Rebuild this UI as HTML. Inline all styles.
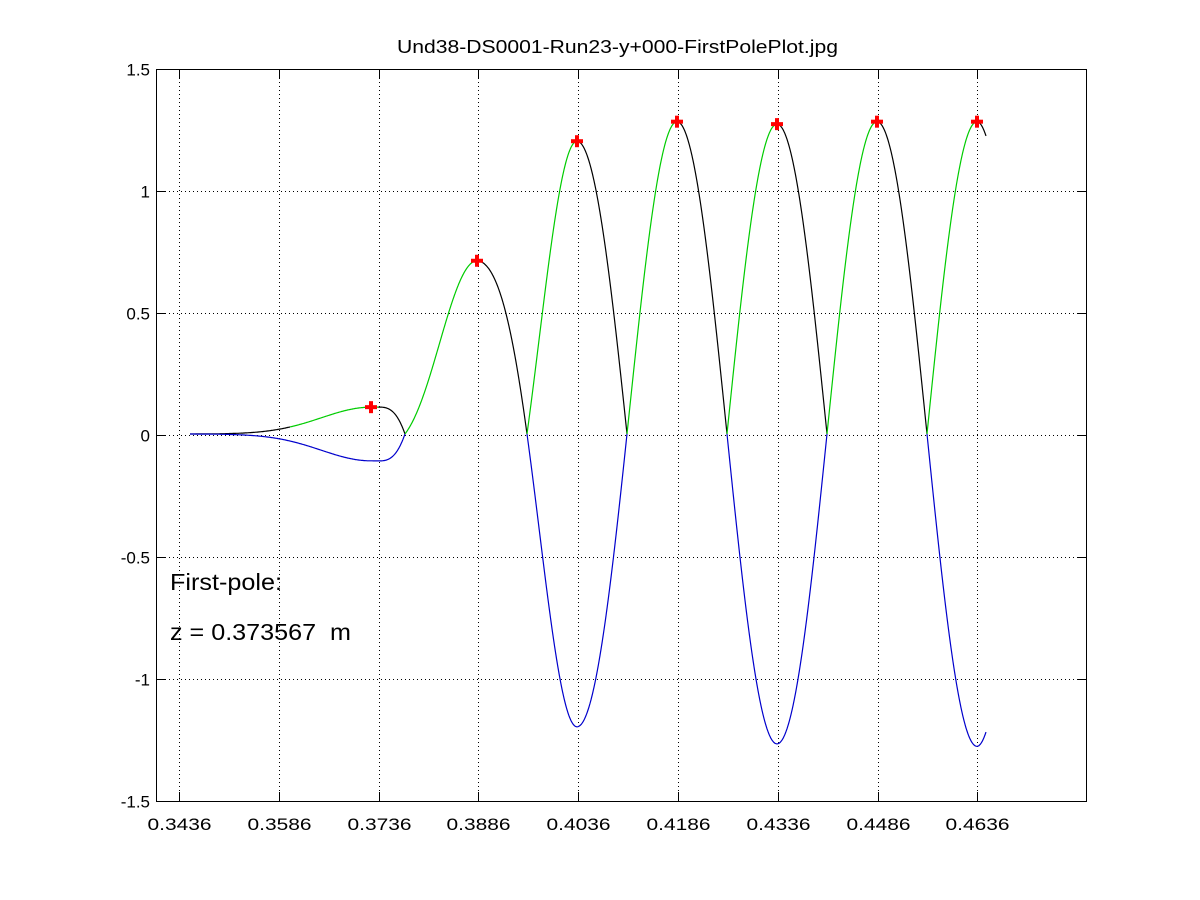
<!DOCTYPE html>
<html><head><meta charset="utf-8"><style>
html,body{margin:0;padding:0;background:#fff;}
svg{display:block;font-family:"Liberation Sans",Helvetica,sans-serif;}
</style></head><body>
<svg id="s" width="1200" height="900" viewBox="0 0 1200 900" xmlns="http://www.w3.org/2000/svg">
<rect width="1200" height="900" fill="#fff"/>
<g id="grid" stroke="#000" stroke-width="1" stroke-dasharray="1,3"></g>
<g id="curves" fill="none" stroke-width="1.2"></g>
<g id="marks" stroke="#f00" stroke-width="4"></g>
<rect x="156.5" y="69.5" width="930" height="732" fill="none" stroke="#000" stroke-width="1"/>
<g id="ticks" stroke="#000" stroke-width="1"></g>
<g id="labels" font-size="17" fill="#000"></g>
<text x="397" y="53" font-size="18" textLength="441" lengthAdjust="spacingAndGlyphs">Und38-DS0001-Run23-y+000-FirstPolePlot.jpg</text>
<text x="170" y="590" font-size="23" textLength="112" lengthAdjust="spacingAndGlyphs">First-pole:</text>
<text x="170" y="640" font-size="23" textLength="181" lengthAdjust="spacingAndGlyphs" xml:space="preserve">z = 0.373567  m</text>
</svg>
<script>
var NS="http://www.w3.org/2000/svg";
function el(p,t,a){var e=document.createElementNS(NS,t);for(var k in a)e.setAttribute(k,a[k]);p.appendChild(e);return e;}
var grid=document.getElementById('grid'),ticks=document.getElementById('ticks'),labels=document.getElementById('labels');
var xl=["0.3436","0.3586","0.3736","0.3886","0.4036","0.4186","0.4336","0.4486","0.4636"];
for(var i=0;i<9;i++){var x=179+99.8*i;x=Math.round(x)+0.5;
el(grid,'line',{x1:x,y1:70,x2:x,y2:801});
el(ticks,'line',{x1:x,y1:801,x2:x,y2:792});el(ticks,'line',{x1:x,y1:70,x2:x,y2:79});
var t=el(labels,'text',{x:x-32,y:830,textLength:64,lengthAdjust:'spacingAndGlyphs'});t.textContent=xl[i];}
var yl=["1.5","1","0.5","0","-0.5","-1","-1.5"];
for(var j=0;j<7;j++){var y=Math.round(69+122*j)+0.5;
if(j>0&&j<6){el(grid,'line',{x1:157,y1:y,x2:1086,y2:y});}
el(ticks,'line',{x1:157,y1:y,x2:166,y2:y});el(ticks,'line',{x1:1086,y1:y,x2:1077,y2:y});
var t=el(labels,'text',{x:150,y:y+6,'text-anchor':'end'});t.textContent=yl[j];}
var ap=[[371,0.11],[477,0.71],[577,1.2],[677,1.28],[777,1.27],[877,1.28],[977,1.28],[990,1.27]];
function A(x){if(x<371)return 0.11*Math.exp(-Math.pow((x-371)/70,2));
for(var i=0;i<ap.length-1;i++){if(x<=ap[i+1][0]){var f=(x-ap[i][0])/(ap[i+1][0]-ap[i][0]);f=(1-Math.cos(Math.PI*f))/2;return ap[i][1]+(ap[i+1][1]-ap[i][1])*f;}}return ap[ap.length-1][1];}
function ph(x){if(x<371)return -Math.PI;if(x<405)return -Math.PI+(x-371)/34*Math.PI/2;if(x<477)return -Math.PI/2+(x-405)/72*Math.PI/2;return Math.PI*(x-477)/100;}
function s(x){return A(x)*Math.cos(ph(x));}
function Y(v){return 434-v*244;}
var cv=document.getElementById('curves');
var pts=[];for(var x=190;x<=986;x+=0.5)pts.push([x,s(x)]);
function P(seg){return 'M'+seg.map(p=>p[0].toFixed(1)+','+p[1].toFixed(1)).join('L');}
var seg=[],col=null;
for(var i=0;i<pts.length;i++){var a=Math.abs(pts[i][1]);var nx=i<pts.length-1?Math.abs(pts[i+1][1]):a;var c=(nx>=a)?'#0c0':'#000';
if(pts[i][0]<290)c='#000';
if(c!==col&&seg.length){seg.push([pts[i][0],Y(a)]);el(cv,'path',{d:P(seg),stroke:col});seg=[];}
col=c;seg.push([pts[i][0],Y(a)]);}
el(cv,'path',{d:P(seg),stroke:col});
var b=[];
for(var i=0;i<pts.length;i++){if(pts[i][1]<=0.0005){b.push([pts[i][0],Y(Math.min(pts[i][1],0))]);}else if(b.length){if(b.length>1)el(cv,'path',{d:P(b),stroke:'#00c'});b=[];}}
if(b.length>1)el(cv,'path',{d:P(b),stroke:'#00c'});
var mk=document.getElementById('marks');
[[371,0.11],[477,0.71],[577,1.2],[677,1.28],[777,1.27],[877,1.28],[977,1.28]].forEach(function(p){var x=p[0],y=Y(p[1]);
el(mk,'line',{x1:x-6,y1:y,x2:x+6,y2:y});el(mk,'line',{x1:x,y1:y-6,x2:x,y2:y+6});});
</script>
</body></html>
